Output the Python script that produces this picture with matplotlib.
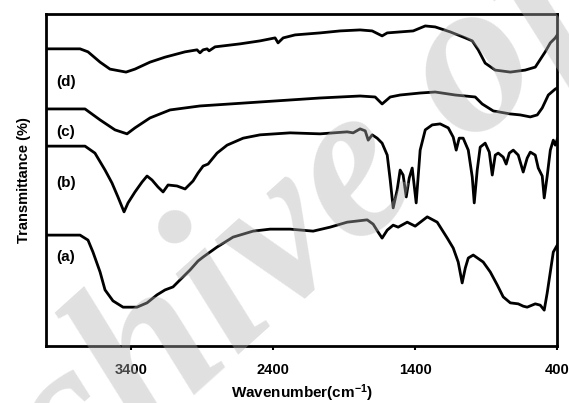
import matplotlib
matplotlib.use("Agg")
import matplotlib.pyplot as plt

plt.rcParams['font.family'] = ['Liberation Sans', 'DejaVu Sans']
plt.rcParams['font.weight'] = 'bold'
plt.rcParams['mathtext.fontset'] = 'custom'
plt.rcParams['mathtext.bf'] = 'Liberation Sans:bold'
plt.rcParams['mathtext.rm'] = 'Liberation Sans:bold'
plt.rcParams['mathtext.default'] = 'bf'

# spectra (wavenumber cm-1, transmittance arb. %)
wn_a = [4000, 3760, 3704, 3669, 3619, 3584, 3528, 3457, 3359, 3288, 3218, 3161, 3105, 3056,
        2985, 2929, 2893, 2795, 2682, 2541, 2421, 2280, 2118, 1998, 1878, 1737, 1695, 1660,
        1632, 1596, 1554, 1519, 1455, 1399, 1314, 1244, 1173, 1131, 1096, 1068, 1046, 1025,
        990, 920, 870, 821, 779, 729, 673, 638, 610, 553, 518, 490, 469, 447, 426, 398]
t_a = [33.4, 33.4, 31.9, 28.3, 22.3, 16.9, 13.6, 11.7, 11.7, 13.0, 15.4, 16.9, 17.8, 19.9,
       22.9, 25.6, 26.8, 29.8, 32.8, 34.6, 35.2, 35.2, 34.6, 35.8, 37.3, 38.0, 36.7, 34.3,
       32.5, 34.9, 36.4, 35.8, 37.3, 36.1, 38.9, 37.3, 32.5, 29.5, 25.3, 19.0, 23.5, 26.5,
       27.4, 25.3, 22.3, 18.4, 14.8, 13.0, 12.7, 12.0, 11.7, 12.7, 12.3, 10.8, 16.0, 22.3, 28.3, 30.4]

wn_b = [4000, 3725, 3655, 3584, 3535, 3493, 3450, 3422, 3373, 3323, 3288, 3253, 3211, 3175,
        3140, 3077, 3020, 2964, 2929, 2893, 2858, 2795, 2724, 2611, 2492, 2280, 2069, 1878,
        1836, 1787, 1751, 1730, 1702, 1667, 1632, 1596, 1575, 1554, 1526, 1505, 1484, 1462,
        1441, 1420, 1392, 1364, 1328, 1279, 1223, 1166, 1131, 1110, 1089, 1061, 1025, 997,
        983, 962, 941, 906, 877, 856, 835, 814, 779, 758, 736, 708, 673, 638, 610, 588, 553,
        532, 504, 490, 469, 447, 426, 412, 398]
t_b = [60.2, 60.2, 58.1, 53.0, 49.1, 44.9, 40.4, 43.1, 46.4, 49.4, 51.2, 50.0, 47.9, 46.4,
       48.5, 48.2, 47.3, 49.7, 52.1, 54.2, 54.8, 58.1, 60.5, 62.6, 63.6, 64.2, 63.9, 64.5,
       64.2, 65.4, 64.8, 62.0, 63.6, 62.6, 61.1, 57.5, 50.0, 41.6, 47.0, 53.0, 51.5, 44.9,
       50.6, 53.6, 43.1, 59.0, 65.1, 66.6, 66.9, 65.7, 62.9, 59.0, 62.6, 62.6, 59.0, 50.9,
       43.1, 53.0, 59.9, 61.1, 58.4, 51.5, 57.5, 58.1, 56.9, 54.8, 58.1, 59.0, 57.5, 52.4,
       56.6, 58.4, 57.5, 53.6, 51.2, 44.6, 51.2, 59.0, 62.0, 60.5, 62.3]

wn_c = [4000, 3725, 3619, 3514, 3429, 3373, 3267, 3126, 2915, 2703, 2492, 2280, 2069, 1787,
        1681, 1632, 1575, 1505, 1364, 1258, 1117, 976, 927, 849, 729, 659, 588, 539, 504,
        461, 412, 398]
t_c = [71.4, 71.4, 68.1, 65.1, 63.9, 65.7, 68.7, 71.1, 72.3, 72.9, 73.5, 74.1, 74.7, 75.3,
       75.0, 72.9, 75.0, 75.6, 76.2, 76.5, 75.6, 75.0, 72.9, 70.8, 69.9, 69.6, 69.0, 69.6,
       71.7, 75.6, 77.4, 77.7]

wn_d = [4000, 3760, 3704, 3619, 3549, 3436, 3373, 3267, 3161, 3020, 2936, 2915, 2893, 2865,
        2851, 2809, 2633, 2492, 2386, 2365, 2329, 2245, 2069, 1928, 1787, 1702, 1660, 1632,
        1596, 1505, 1413, 1328, 1258, 1152, 1046, 997, 955, 906, 835, 729, 624, 553, 483,
        447, 412, 398]
t_d = [89.5, 89.5, 88.6, 85.5, 83.4, 82.5, 83.4, 85.5, 87.0, 88.6, 89.2, 88.3, 89.2, 89.5,
       88.9, 90.1, 91.0, 91.9, 92.8, 91.3, 92.8, 93.7, 94.3, 94.9, 95.2, 94.9, 94.0, 93.4,
       94.3, 94.6, 94.9, 96.4, 96.1, 94.6, 92.8, 91.9, 89.2, 85.2, 83.1, 82.5, 83.1, 84.0,
       88.6, 91.3, 92.8, 93.7]

labels = ['(a)', '(b)', '(c)', '(d)']
label_y = [26.8, 49.1, 64.5, 79.5]
xticks = [3400, 2400, 1400, 400]

fig = plt.figure(figsize=(5.69, 4.03), dpi=100)
ax = fig.add_axes([0.0808, 0.1414, 0.8981, 0.8239])

for wn, t in [(wn_a, t_a), (wn_b, t_b), (wn_c, t_c), (wn_d, t_d)]:
    ax.plot(wn, t, color='black', lw=2.0, solid_joinstyle='round')

for lab, yy in zip(labels, label_y):
    ax.text(3930, yy, lab, fontsize=11, fontweight='bold', ha='left', va='center')

ax.set_xlim(4000, 400)
ax.set_ylim(0, 100)
ax.set_xticks(xticks)
ax.set_xticklabels([str(v) for v in xticks])
ax.set_yticks([])
ax.tick_params(axis='x', direction='out', length=3, width=1.5, pad=9, labelsize=10.5)
for lbl in ax.get_xticklabels():
    lbl.set_fontweight('bold')
for sp in ax.spines.values():
    sp.set_linewidth(2)

ax.set_xlabel('Wavenumber(cm$^{-1}$)', fontsize=11, fontweight='bold', labelpad=4)
ax.set_ylabel('Transmittance (%)', fontsize=10.5, fontweight='bold', labelpad=11)

# watermark
fig.text(0.661, 0.583, 'Archive of SID', fontsize=160, family='Liberation Serif',
         style='italic', fontweight='bold', color='#b3b3b3', alpha=0.40,
         rotation=42, rotation_mode='anchor', ha='center', va='center', zorder=10)

fig.savefig('out.png', dpi=100)
